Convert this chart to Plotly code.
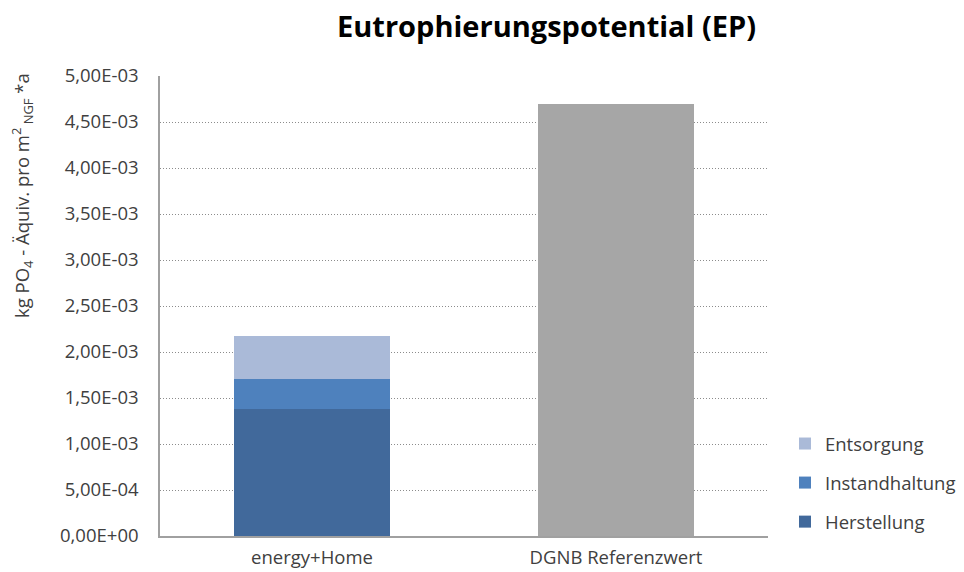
import plotly.graph_objects as go

# Categories and values (kg PO4-eq per m² NGF and year)
categories = ["energy+Home", "DGNB Referenzwert"]
herstellung = [1.38e-3]
instandhaltung = [0.33e-3]
entsorgung = [0.465e-3]
dgnb_referenz = [4.70e-3]

tick_vals = [0, 0.5e-3, 1.0e-3, 1.5e-3, 2.0e-3, 2.5e-3, 3.0e-3, 3.5e-3, 4.0e-3, 4.5e-3, 5.0e-3]
tick_text = ["0,00E+00", "5,00E-04", "1,00E-03", "1,50E-03", "2,00E-03", "2,50E-03",
             "3,00E-03", "3,50E-03", "4,00E-03", "4,50E-03", "5,00E-03"]

FONT = "Open Sans"
TXT = "#404040"
FS = 18.5

fig = go.Figure()
fig.add_trace(go.Bar(x=[categories[0]], y=herstellung, name="Herstellung",
                     marker=dict(color="#41699b", line=dict(width=0)),
                     legendgroup="a", legendrank=3))
fig.add_trace(go.Bar(x=[categories[0]], y=instandhaltung, name="Instandhaltung",
                     marker=dict(color="#4e81bd", line=dict(width=0)),
                     legendgroup="b", legendrank=2))
fig.add_trace(go.Bar(x=[categories[0]], y=entsorgung, name="Entsorgung",
                     marker=dict(color="#aabad8", line=dict(width=0)),
                     legendgroup="c", legendrank=1))
fig.add_trace(go.Bar(x=[categories[1]], y=dgnb_referenz, name="DGNB Referenzwert",
                     marker=dict(color="#a6a6a6", line=dict(width=0)), showlegend=False))

fig.update_layout(
    width=964, height=572,
    margin=dict(l=160, r=196, t=76, b=36, autoexpand=False),
    barmode="stack", bargap=0.487,
    plot_bgcolor="white", paper_bgcolor="white",
    font=dict(family=FONT, size=FS, color=TXT),
    title=dict(text="<b>Eutrophierungspotential (EP)</b>", x=0.567, xref="container",
               xanchor="center", y=0.953, yanchor="middle",
               font=dict(family=FONT, size=29, color="black")),
    legend=dict(x=0.8143, xref="container", xanchor="left",
                y=(572 - 483) / 572, yref="container", yanchor="middle",
                traceorder="grouped", tracegroupgap=12,
                font=dict(family=FONT, size=FS, color=TXT),
                itemwidth=30, bgcolor="rgba(0,0,0,0)"),
    showlegend=True,
)

fig.update_xaxes(categoryorder="array", categoryarray=categories,
                 showline=True, linecolor="#a0a0a0", linewidth=1.5,
                 ticks="", showgrid=False, ticklabelstandoff=4, automargin=False,
                 tickfont=dict(family=FONT, size=FS, color=TXT))
fig.update_yaxes(range=[0, 5.0e-3], tickvals=tick_vals, ticktext=tick_text,
                 showline=True, linecolor="#a0a0a0", linewidth=1.5,
                 showgrid=True, gridcolor="#8c8c8c", griddash="1px,2px", gridwidth=1.2,
                 zeroline=False, ticks="", ticklabelstandoff=16, automargin=False,
                 tickfont=dict(family=FONT, size=FS, color=TXT))

fig.add_annotation(text="kg PO<sub>4</sub> - Äquiv. pro m<sup>2</sup><sub> NGF</sub> *a",
                   xref="paper", yref="paper", x=(22 - 160) / 608, y=(536 - 196) / 460,
                   xanchor="center", yanchor="middle", textangle=-90, showarrow=False,
                   font=dict(family=FONT, size=18.5, color=TXT))

fig.write_html("out.html")
